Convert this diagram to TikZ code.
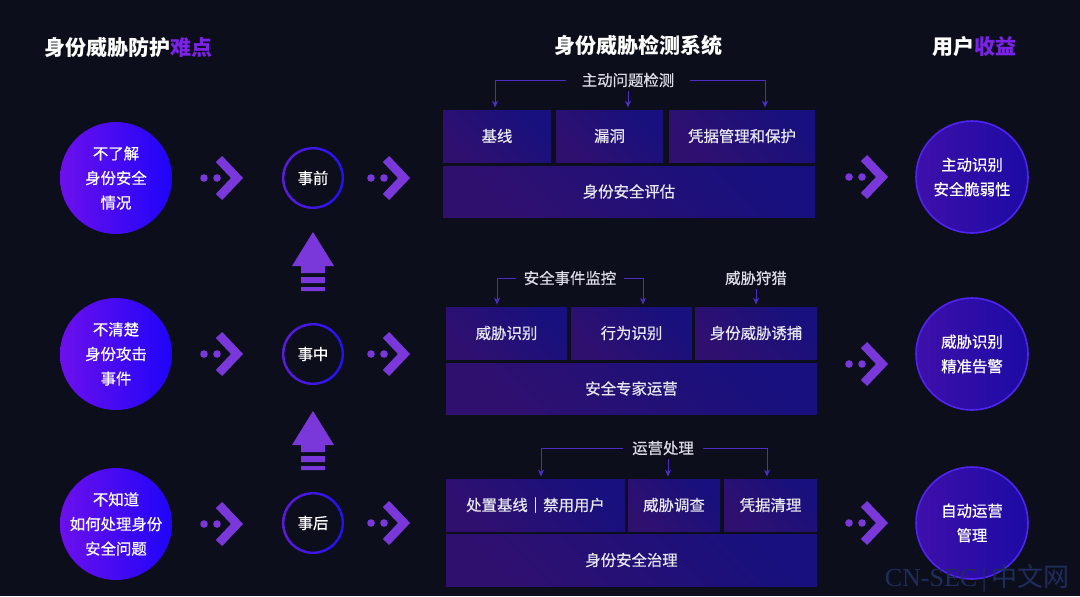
\documentclass[tikz,border=0pt]{standalone}
\usepackage{fontspec}
\setmainfont{Noto Sans CJK SC}
\newfontfamily\medfont{Noto Sans CJK SC}[FakeBold=0.6]
\newfontfamily\wmfont{Liberation Serif}
\usetikzlibrary{arrows.meta}
\definecolor{bgc}{HTML}{0C0E1C}
\definecolor{accent}{HTML}{7A22E6}
\definecolor{purc}{HTML}{7A37DA}
\definecolor{lfA}{HTML}{6C10EC}
\definecolor{lfB}{HTML}{1F04FA}
\definecolor{ringA}{HTML}{5C1CDA}
\definecolor{ringB}{HTML}{2210F2}
\definecolor{rtA}{HTML}{3F0FAA}
\definecolor{rtB}{HTML}{1B0BA4}
\definecolor{rtE}{HTML}{4F24F2}
\definecolor{boxB}{HTML}{17107E}
\definecolor{boxP}{HTML}{30106F}
\definecolor{boxt}{HTML}{E8E8F2}
\definecolor{lblt}{HTML}{DCDCE6}
\definecolor{connc}{HTML}{4B2FC4}
\definecolor{wmc}{HTML}{1E2D5C}
\tikzset{
  ttl/.style={text=white,font=\fontsize{10.5}{12}\selectfont\bfseries,inner sep=0pt},
  body/.style={font=\medfont\fontsize{7.7}{12.3}\selectfont},
  lftc/.style={circle,minimum size=56pt,inner sep=-8pt,left color=lfA,right color=lfB,text=white,align=center,body},
  midc/.style={circle,minimum size=31pt,fill=bgc,text=white,body},
  ring/.style={left color=ringA,right color=ringB,even odd rule},
  rgtc/.style={circle,minimum size=56pt,inner sep=-8pt,left color=rtA,right color=rtB,draw=rtE,line width=0.8pt,text=white,align=center,body},
  blk/.style={rectangle,top color=boxB,bottom color=boxP,shading angle=-45,text=boxt,body,inner sep=0pt},
  lbl/.style={text=lblt,body,inner ysep=1.5pt},
  conn/.style={draw=connc,line width=0.5pt,-{Stealth[length=3.5pt,width=3pt]},shorten >=1pt},
  chev/.pic={
    \fill[purc] (0,0) circle (3.8) (13,0) circle (3.8);
    \draw[purc,line width=4.4pt] (15,-19) -- (33,0) -- (15,19);
  },
  uparr/.pic={
    \fill[purc] (0,0) -- (21,34) -- (12,34) -- (12,41) -- (-12,41) -- (-12,34) -- (-21,34) -- cycle;
    \fill[purc] (-12,45) rectangle (12,51) (-12,55) rectangle (12,59);
  }
}
\begin{document}
\begin{tikzpicture}[x=0.5pt,y=-0.5pt]
\fill[bgc] (0,0) rectangle (1080,596);
% titles
\node[ttl,anchor=west] (ttlL) at (44,47) {身份威胁防护\textcolor{accent}{难点}};
\node[ttl] (ttlM) at (638,45) {身份威胁检测系统};
\node[ttl] (ttlR) at (974,47) {用户\textcolor{accent}{收益}};
% pain points
\node[lftc] (nd1) at (116,178) {不了解\\身份安全\\情况};
\node[lftc] (nd2) at (116,354) {不清楚\\身份攻击\\事件};
\node[lftc] (nd3) at (116,524) {不知道\\如何处理身份\\安全问题};
% stages
\node[midc] (pre) at (313,178) {事前};
\node[midc] (mid) at (313,354) {事中};
\node[midc] (post) at (313,523) {事后};
\shade[ring] (pre) circle (31) circle (28.6);
\shade[ring] (mid) circle (31) circle (28.6);
\shade[ring] (post) circle (31) circle (28.6);
\pic at (313,232) {uparr};
\pic at (313,411) {uparr};
% chevrons
\pic at (204,178) {chev};
\pic at (204,354) {chev};
\pic at (204,524) {chev};
\pic at (371,178) {chev};
\pic at (371,354) {chev};
\pic at (371,523) {chev};
\pic at (849,177) {chev};
\pic at (849,364) {chev};
\pic at (849,523) {chev};
% gains
\node[rgtc] (gain1) at (972,177) {主动识别\\安全脆弱性};
\node[rgtc] (gain2) at (972,354) {威胁识别\\精准告警};
\node[rgtc] (gain3) at (972,523) {自动运营\\管理};
% system: before
\node[blk,minimum width=54pt,minimum height=26pt] (jx) at (497,136) {基线};
\node[blk,minimum width=53.5pt,minimum height=26pt] (ld) at (609.5,136) {漏洞};
\node[blk,minimum width=73pt,minimum height=26pt] (pj) at (742,136) {凭据管理和保护};
\node[blk,minimum width=186pt,minimum height=25.5pt] (sfpg) at (629,191.5) {身份安全评估};
\node[lbl,inner xsep=7.5pt] (zdjc) at (628,80) {主动问题检测};
\draw[conn] (zdjc.west) -| ([xshift=-1pt]jx.north);
\draw[conn] (zdjc.south) -- ([xshift=9.25pt]ld.north);
\draw[conn] (zdjc.east) -| ([xshift=11.5pt]pj.north);
% system: during
\node[blk,minimum width=60.5pt,minimum height=26pt] (wxsb) at (506.5,333) {威胁识别};
\node[blk,minimum width=60.5pt,minimum height=26pt] (xwsb) at (631.5,333) {行为识别};
\node[blk,minimum width=61pt,minimum height=26pt] (sfyb) at (756,333) {身份威胁诱捕};
\node[blk,minimum width=185.5pt,minimum height=25.5pt] (zjyy) at (631.5,388.5) {安全专家运营};
\node[lbl,inner xsep=3.5pt] (aqjk) at (570,278) {安全事件监控};
\node[lbl] (wxlr) at (756,278) {威胁狩猎};
\draw[conn] (aqjk.west) -| ([xshift=-4.75pt]wxsb.north);
\draw[conn] (aqjk.east) -| ([xshift=5.75pt]xwsb.north);
\draw[conn] (wxlr.south) -- (sfyb.north);
% system: after
\node[blk,minimum width=89.5pt,minimum height=26pt] (czjx) at (535.5,505) {处置基线｜禁用用户};
\node[blk,minimum width=46pt,minimum height=26pt] (wxdc) at (674,505) {威胁调查};
\node[blk,minimum width=46.5pt,minimum height=26pt] (pjql) at (770.5,505) {凭据清理};
\node[blk,minimum width=185.5pt,minimum height=26pt] (sfzl) at (631.5,560) {身份安全治理};
\node[lbl,inner xsep=4.5pt] (yycl) at (663,448) {运营处理};
\draw[conn] (yycl.west) -| ([xshift=2.75pt]czjx.north);
\draw[conn] ([xshift=2.5pt]yycl.south) -- ([xshift=-3pt]wxdc.north);
\draw[conn] (yycl.east) -| ([xshift=-1.75pt]pjql.north);
% watermark
\node[text=wmc,font=\fontsize{13}{14}\selectfont,inner sep=0pt] (wm) at (977,578) {{\wmfont CN-SEC\,|\,}中文网};
\end{tikzpicture}
\end{document}
